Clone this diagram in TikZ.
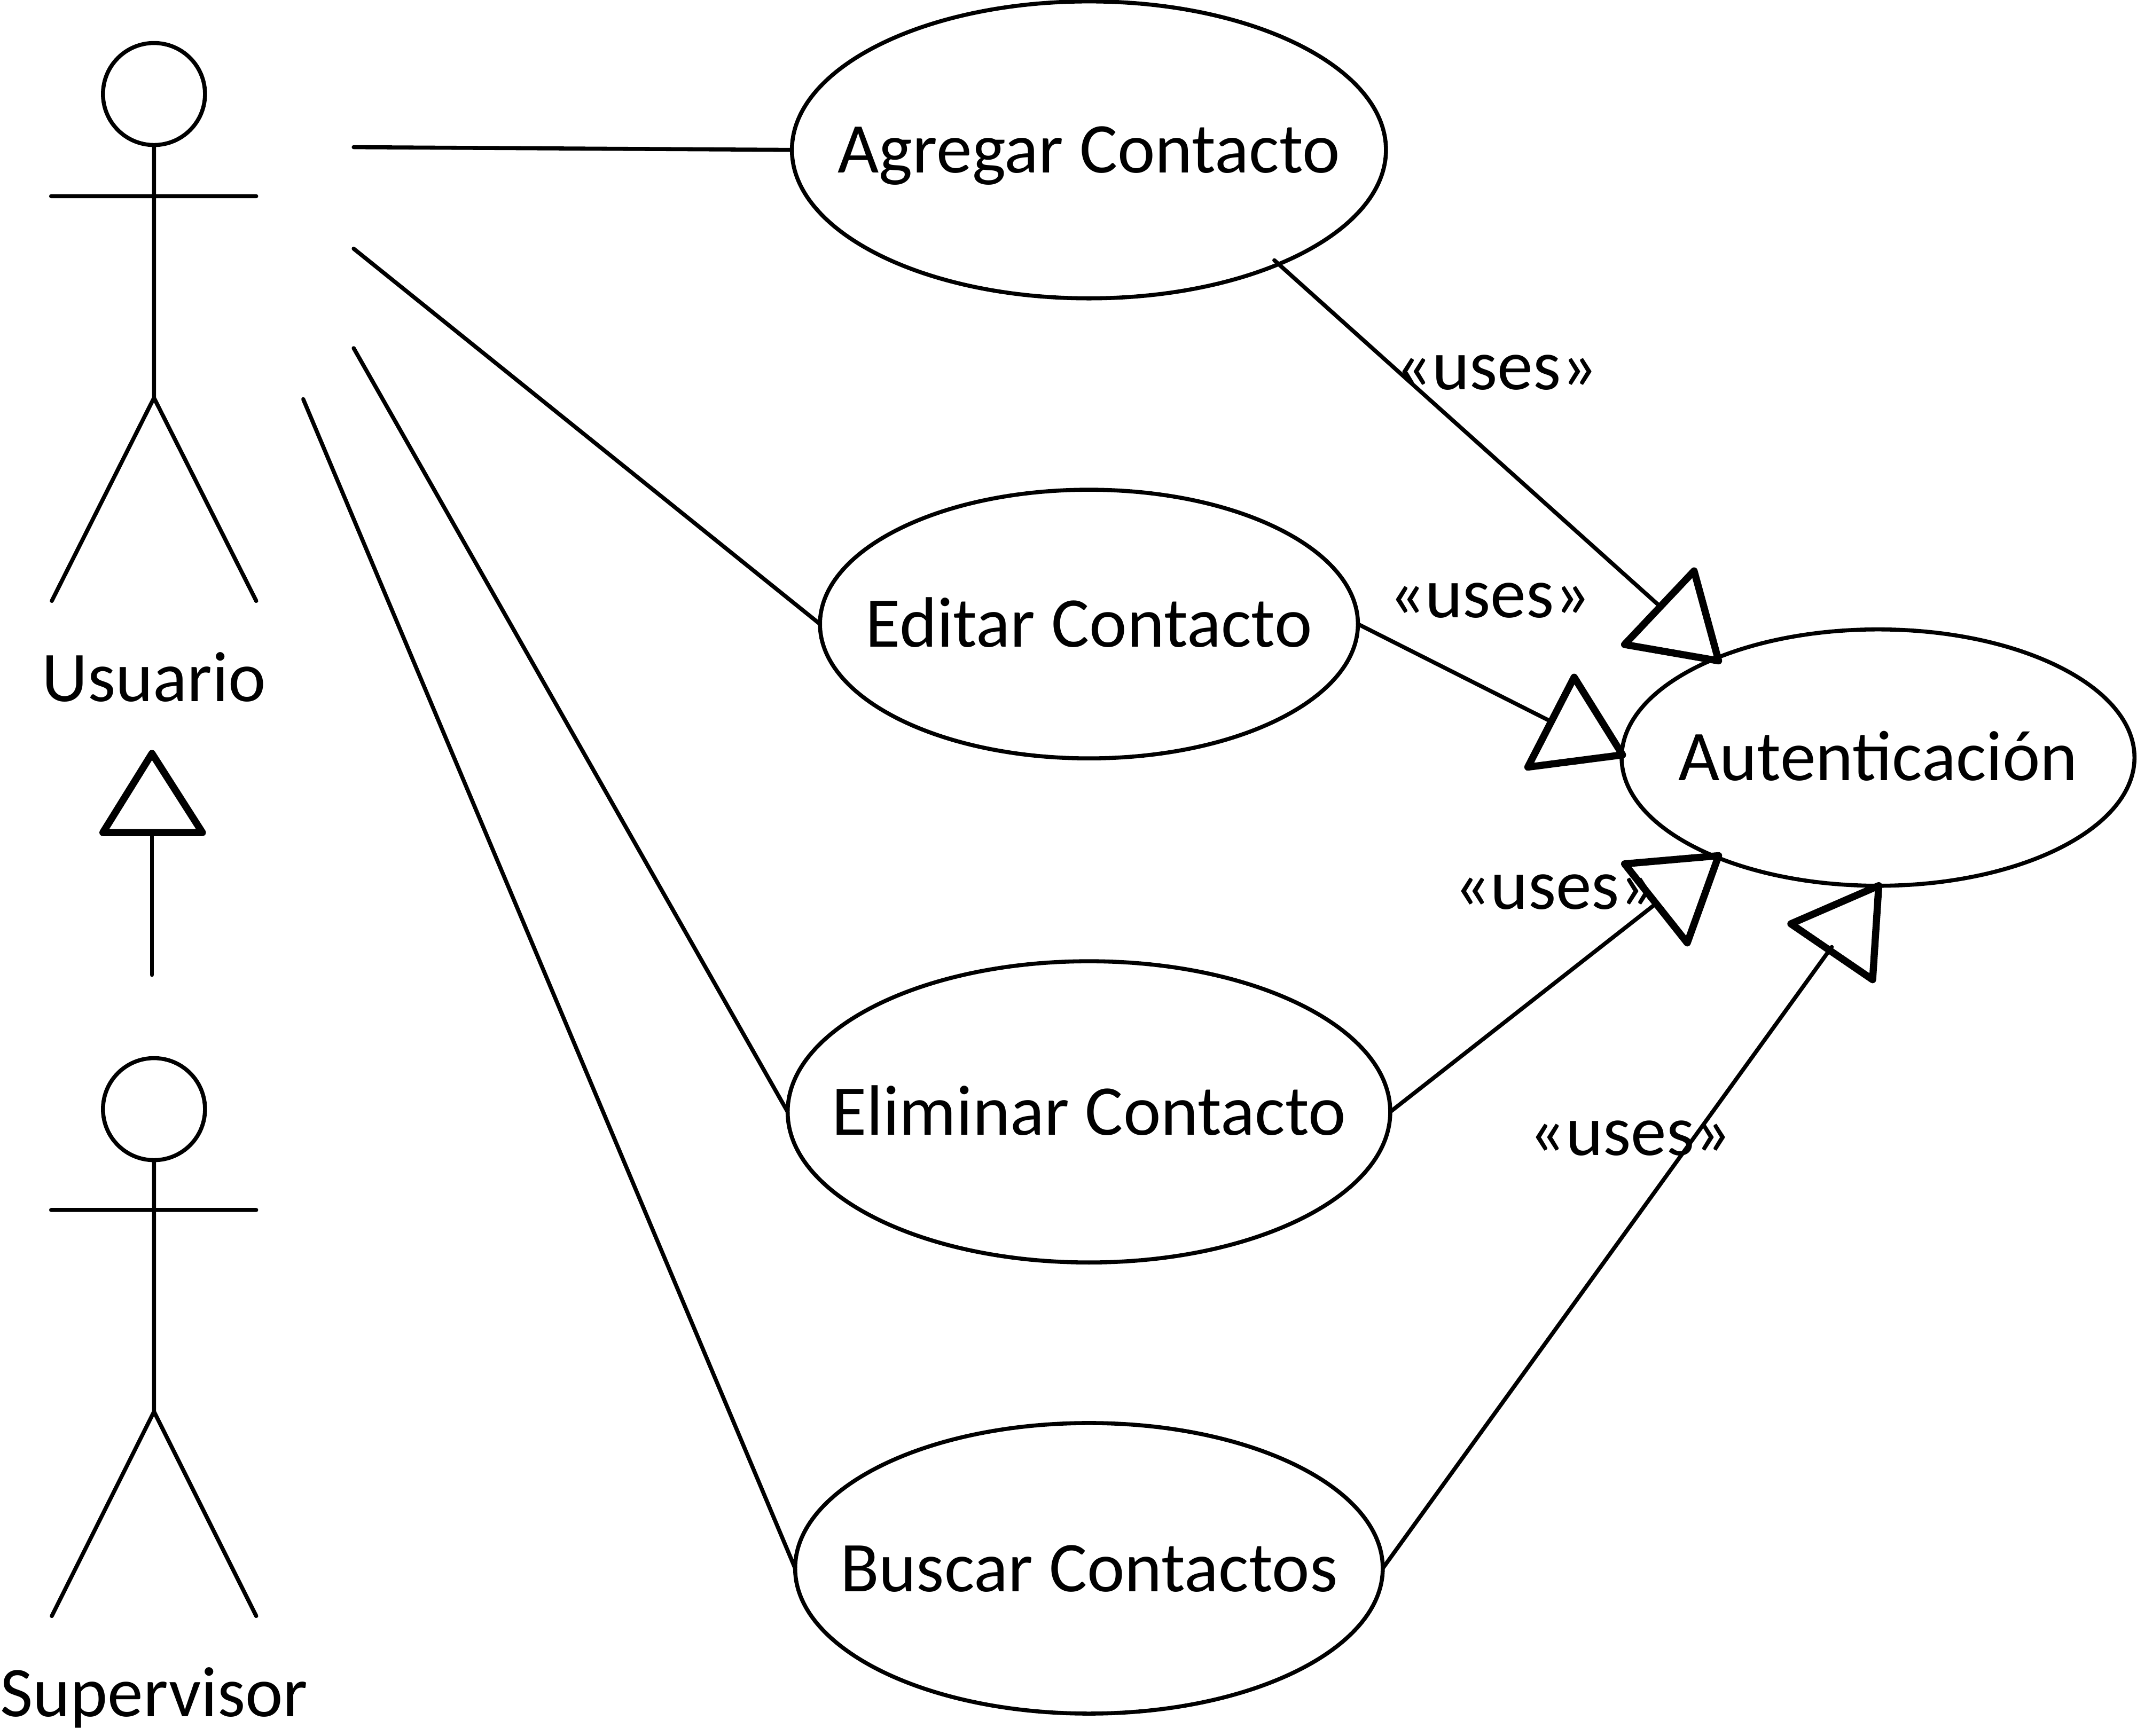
\documentclass[tikz,border=0pt]{standalone}
\usepackage{fontspec}
\setmainfont{Carlito}
\usetikzlibrary{shapes.geometric}

\newcommand{\casetext}[1]{\makebox[0pt]{#1}}

\tikzset{
  usecase/.style={draw,ellipse,line width=2.15pt,inner sep=0pt,outer sep=0pt,
    font=\fontsize{38}{44}\selectfont,text height=0.86cm,text depth=0pt},
  plaintext/.style={font=\fontsize{38}{44}\selectfont,inner sep=0pt,text height=0.86cm,text depth=0pt},
  head/.style={draw,circle,line width=2.15pt,minimum size=1.91cm,inner sep=0pt,outer sep=0pt},
  link/.style={line width=2.15pt,line cap=round},
  hollow/.style={line width=3.8pt,line join=round}
}

\begin{document}
\begin{tikzpicture}[x=0.02552cm,y=-0.02552cm]
\useasboundingbox (0,0) rectangle (1568,1274);

% use cases
\node[usecase,minimum width=11.12cm,minimum height=5.56cm] (agregar) at (799,110) {\casetext{Agregar Contacto}};
\node[usecase,minimum width=10.07cm,minimum height=5.03cm] (editar) at (799,458) {\casetext{Editar Contacto}};
\node[usecase,minimum width=11.28cm,minimum height=5.64cm] (eliminar) at (799,816) {\casetext{Eliminar Contacto}};
\node[usecase,minimum width=11cm,minimum height=5.44cm] (buscar) at (799,1151) {\casetext{Buscar Contactos}};
\node[usecase,minimum width=9.6cm,minimum height=4.8cm] (auth) at (1378,556) {\casetext{Autenticación}};

% actors
\node[head] (usuariohead) at (113,69) {};
\draw[link] (usuariohead.south) -- (113,292) -- (38,441) (113,292) -- (188,441) (37.5,144) -- (188,144);
\node[plaintext] (usuario) at (113,498) {Usuario};
\node[head] (supervisorhead) at (113,814) {};
\draw[link] (supervisorhead.south) -- (113,1036) -- (38,1186) (113,1036) -- (188,1186) (37.5,888) -- (188,888);
\node[plaintext] (supervisor) at (113,1243) {Supervisor};

% actor to use case
\coordinate (u1) at (259.5,108);
\coordinate (u2) at (259.5,182.5);
\coordinate (u3) at (259.5,255.5);
\coordinate (u4) at (222.5,293);
\draw[link] (u1) -- (agregar.west);
\draw[link] (u2) -- (editar.west);
\draw[link] (u3) -- (eliminar.west);
\draw[link] (u4) -- (buscar.west);

% generalization
\coordinate (s1) at (111.5,715.5);
\coordinate (t0) at (111.5,553);
\draw[link] (s1) -- (111.5,611);
\draw[hollow] (t0) -- (148.5,611) -- (75.5,611) -- cycle;

% uses
\coordinate (a1) at (935,191);
\coordinate (t1) at (1261,485);
\coordinate (t2) at (1190.5,554);
\coordinate (t3) at (1261,628);
\coordinate (t4) at (1378.5,650);
\draw[link] (a1) -- (1218,445);
\draw[hollow] (t1) -- (1243,419) -- (1192,473) -- cycle;
\draw[link] (editar.east) -- (1139,530);
\draw[hollow] (t2) -- (1155,497) -- (1121,563) -- cycle;
\draw[link] (eliminar.east) -- (1214,664);
\draw[hollow] (t3) -- (1192,634) -- (1238,692) -- cycle;
\draw[link] (buscar.east) -- (1344,695);
\draw[hollow] (t4) -- (1314,678) -- (1374,719) -- cycle;

\node[plaintext] (uses1) at (1098,269) {«uses»};
\node[plaintext] (uses2) at (1093,436.5) {«uses»};
\node[plaintext] (uses3) at (1141,650.5) {«uses»};
\node[plaintext] (uses4) at (1196,831) {«uses»};
\end{tikzpicture}
\end{document}
